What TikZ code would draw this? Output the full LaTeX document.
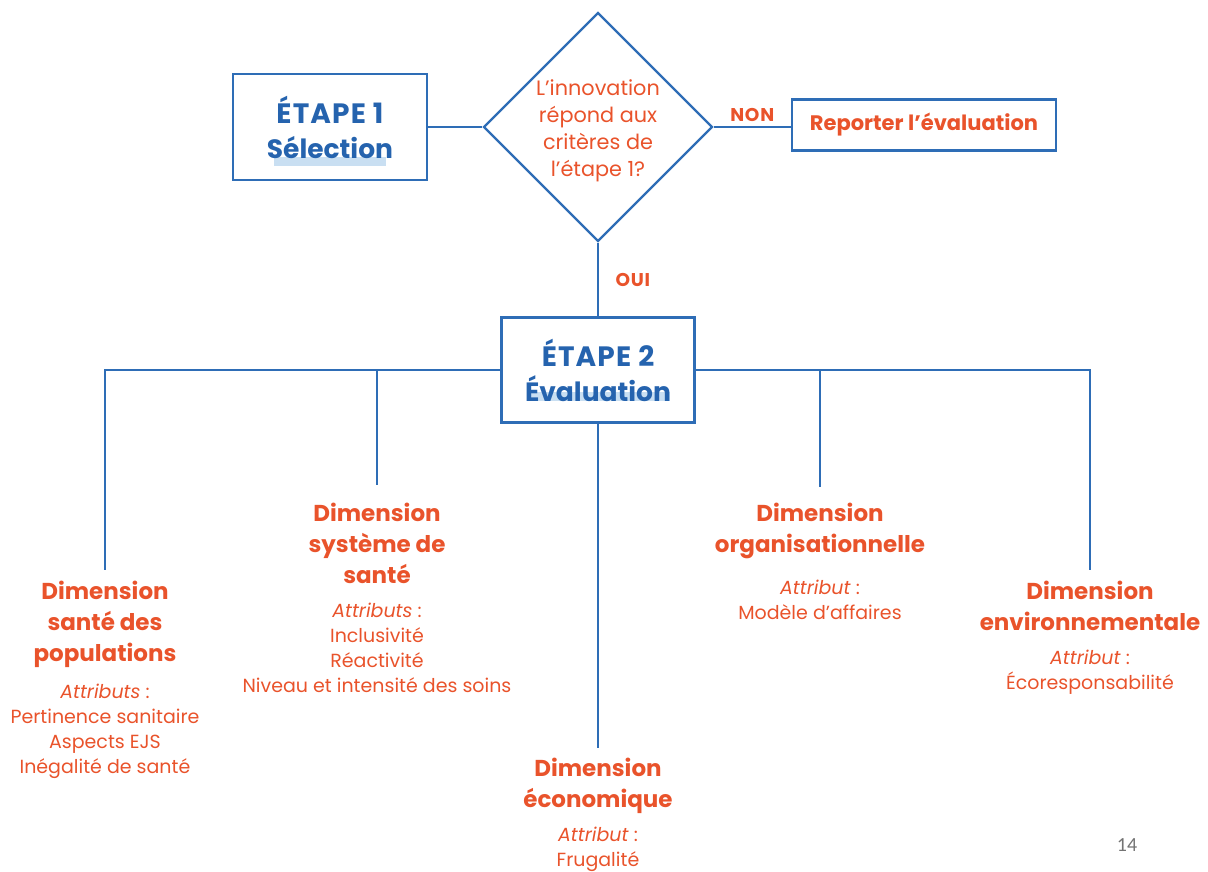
\documentclass[tikz,border=0pt]{standalone}
\usepackage{fontspec}
\setmainfont{Poppins}
\newfontfamily\pagefont{Carlito}
\usetikzlibrary{positioning}
\usetikzlibrary{shapes.geometric}

\definecolor{stageblue}{HTML}{2563AE}
\definecolor{lineblue}{HTML}{2E6DB6}
\definecolor{accent}{HTML}{E9532B}
\definecolor{marker}{HTML}{C9DFF2}

\newcommand{\capsspaced}[1]{{\addfontfeatures{LetterSpace=4}#1}}

\tikzset{
    stagebox/.style={draw=lineblue, line width=2.4pt, inner sep=0pt},
    stagetext/.style={text=stageblue, font=\bfseries\fontsize{26.5}{35}\selectfont, align=center},
    stagecaps/.style={font=\bfseries\fontsize{28}{35}\selectfont},
    decision/.style={diamond, draw=lineblue, line width=2.4pt, inner sep=0pt,
        minimum width=229pt, minimum height=229pt},
    checktext/.style={text=accent, align=center, font=\fontsize{20.8}{27}\selectfont},
    dimtitle/.style={text=accent, font=\bfseries\fontsize{23}{31}\selectfont, align=center, inner sep=4pt},
    dimattr/.style={text=accent, font=\fontsize{19}{25}\selectfont, align=center, inner sep=0pt},
    flag/.style={text=accent, font=\bfseries\fontsize{18.5}{20}\selectfont},
}

\begin{document}
\begin{tikzpicture}[x=1pt, y=-1pt, line width=2.4pt, draw=lineblue]
    \useasboundingbox (0,0) rectangle (1208,871);
    \fill[marker] (274,157) rectangle (386,166);
    \fill[marker] (528,392) rectangle (670,401);

    \node (stage1) [stagebox, stagetext, minimum width=194pt, minimum height=106pt] at (330,127)
        {{\fontsize{28}{35}\selectfont\capsspaced{ÉTAPE 1}}\\Sélection};
    \node (check) [decision] at (598,127) {};
    \node (checkText) [checktext] at ([yshift=-4pt]check.center) {L’innovation\\répond aux\\critères de\\l’étape 1?};
    \node (defer) [stagebox, text=accent, font=\bfseries\fontsize{21}{24}\selectfont,
        minimum width=264pt, minimum height=51pt] at (924,125) {Reporter l’évaluation};
    \node (stage2) [stagebox, stagetext, minimum width=193pt, minimum height=105pt] at (598,370)
        {{\fontsize{28}{35}\selectfont\capsspaced{ÉTAPE 2}}\\Évaluation};

    \draw (stage1.east) -- (check.west);
    \draw (check.east) -- node[flag, above=1pt] (nonLbl) {\capsspaced{NON}} (check.east -| defer.west);
    \draw (check.south) -- node[flag, right=13pt] (ouiLbl) {\capsspaced{OUI}} (stage2.north);

    % dimensions
    \node (popTitle) [dimtitle, anchor=north] at (105,576) {Dimension\\santé des\\populations};
    \node (popAttr) [dimattr, below=10pt of popTitle] {\textit{Attributs} :\\Pertinence sanitaire\\Aspects EJS\\Inégalité de santé};
    \node (sysTitle) [dimtitle, anchor=north] at (377,498) {Dimension\\système de\\santé};
    \node (sysAttr) [dimattr, below=13pt of sysTitle] {\textit{Attributs} :\\Inclusivité\\Réactivité\\Niveau et intensité des soins};
    \node (ecoTitle) [dimtitle, anchor=north] at (598,753) {Dimension\\économique};
    \node (ecoAttr) [dimattr, below=7pt of ecoTitle] {\textit{Attribut} :\\Frugalité};
    \node (orgTitle) [dimtitle, anchor=north] at (820,498) {Dimension\\organisationnelle};
    \node (orgAttr) [dimattr, below=15pt of orgTitle] {\textit{Attribut} :\\Modèle d’affaires};
    \node (envTitle) [dimtitle, anchor=north] at (1090,576) {Dimension\\environnementale};
    \node (envAttr) [dimattr, below=13pt of envTitle] {\textit{Attribut} :\\Écoresponsabilité};

    \draw[shorten >=6pt] (stage2.west) -| (popTitle.north);
    \draw[shorten >=13pt] (stage2.west -| sysTitle.north) -- (sysTitle.north);
    \draw[shorten >=5pt] (stage2.south) -- (ecoTitle.north);
    \draw[shorten >=6pt] (stage2.east) -| (envTitle.north);
    \draw[shorten >=11pt] (stage2.east -| orgTitle.north) -- (orgTitle.north);

    \node (pageNo) [text=black!55, font=\pagefont\fontsize{20}{22}\selectfont] at (1127,845) {14};
\end{tikzpicture}
\end{document}
